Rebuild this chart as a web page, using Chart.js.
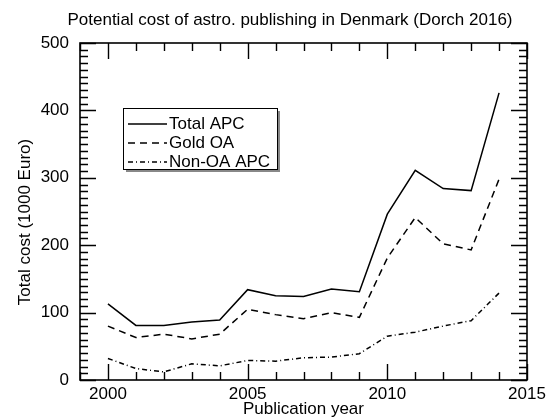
<!DOCTYPE html>
<html><head><meta charset="utf-8">
<script src="https://cdn.jsdelivr.net/npm/chart.js@4/dist/chart.umd.min.js"></script>
<style>html,body{margin:0;padding:0;background:#fff}#wrap{width:548px;height:420px}</style>
</head><body><div id="wrap"><canvas id="c" width="548" height="420"></canvas></div>
<script>
const years = [2000,2001,2002,2003,2004,2005,2006,2007,2008,2009,2010,2011,2012,2013,2014];
const totalAPC = [113,81,81,86,89,134,125,124,135,131,246,311,284,281,426];
const goldOA   = [80,63,68,61,68,105,97,91,100,93,181,241,202,193,298];
const nonOA    = [32,17,12,24,21,29,28,33,34,39,65,71,80,88,129];
const xTickLabels = ['2000','2005','2010','2015'];
const yTickLabels = ['0','100','200','300','400','500'];
const seriesNames = ['Total APC','Gold OA','Non-OA APC'];
const titleText = 'Potential cost of astro. publishing in Denmark (Dorch 2016)';
const xTitle = 'Publication year';
const yTitle = 'Total cost (1000 Euro)';

const FONT = '"Liberation Sans", Arial, Helvetica, sans-serif';
const dashes = [[], [7,5], [5,3,1,3]];

function pts(arr){ return years.map((y,i)=>({x:y,y:arr[i]})); }

const framePlugin = {
  id:'frame',
  afterDatasetsDraw(chart){
    const ctx = chart.ctx, xs = chart.scales.x, ys = chart.scales.y, a = chart.chartArea;
    ctx.save();
    ctx.strokeStyle = '#000'; ctx.lineWidth = 1.6; ctx.setLineDash([]);
    ctx.strokeRect(a.left, a.top, a.right-a.left, a.bottom-a.top);
    ctx.lineWidth = 1.4;
    for (let v = xs.min; v <= xs.max; v++) {
      const px = Math.round(xs.getPixelForValue(v))+0.5;
      const L = (v % 5 === 0) ? 16 : 8;
      ctx.beginPath();
      ctx.moveTo(px, a.bottom); ctx.lineTo(px, a.bottom-L);
      ctx.moveTo(px, a.top); ctx.lineTo(px, a.top+L);
      ctx.stroke();
    }
    for (let v = ys.min; v <= ys.max; v += 10) {
      const py = Math.round(ys.getPixelForValue(v))+0.5;
      const L = (v % 100 === 0) ? 16 : 8;
      ctx.beginPath();
      ctx.moveTo(a.left, py); ctx.lineTo(a.left+L, py);
      ctx.moveTo(a.right, py); ctx.lineTo(a.right-L, py);
      ctx.stroke();
    }
    ctx.fillStyle = '#000';
    ctx.font = '17px ' + FONT;
    ctx.textAlign = 'center'; ctx.textBaseline = 'top';
    xTickLabels.forEach(t => { ctx.fillText(t, xs.getPixelForValue(+t), a.bottom+6); });
    ctx.textAlign = 'right'; ctx.textBaseline = 'middle';
    yTickLabels.forEach(t => { ctx.fillText(t, a.left-11, ys.getPixelForValue(+t)); });
    ctx.textAlign = 'center'; ctx.textBaseline = 'middle';
    ctx.fillText(titleText, 290, 20);
    ctx.fillText(xTitle, (a.left+a.right)/2, 409);
    ctx.save();
    ctx.translate(25, 222);
    ctx.rotate(-Math.PI/2);
    ctx.fillText(yTitle, 0, 0);
    ctx.restore();
    const bx = 123, by = 108, bw = 154, bh = 61;
    ctx.fillStyle = '#888';
    ctx.fillRect(bx+3, by+3, bw, bh);
    ctx.fillStyle = '#fff';
    ctx.fillRect(bx, by, bw, bh);
    ctx.lineWidth = 1; ctx.strokeStyle = '#000';
    ctx.strokeRect(bx+0.5, by+0.5, bw, bh);
    chart.data.datasets.forEach((ds, i) => {
      const yy = 124 + i*19;
      ctx.lineWidth = 1.5;
      ctx.setLineDash(ds.borderDash || []);
      ctx.beginPath(); ctx.moveTo(128, yy); ctx.lineTo(167, yy); ctx.stroke();
      ctx.setLineDash([]);
      ctx.fillStyle = '#000';
      ctx.textAlign = 'left';
      ctx.fillText(ds.label, 169, yy);
    });
    ctx.restore();
  }
};

new Chart(document.getElementById('c'), {
  type:'line',
  data:{ datasets:[
    {label:seriesNames[0], data:pts(totalAPC), borderColor:'#000', borderWidth:1.5, borderDash:dashes[0], pointRadius:0, tension:0, fill:false},
    {label:seriesNames[1], data:pts(goldOA), borderColor:'#000', borderWidth:1.5, borderDash:dashes[1], pointRadius:0, tension:0, fill:false},
    {label:seriesNames[2], data:pts(nonOA), borderColor:'#000', borderWidth:1.5, borderDash:dashes[2], pointRadius:0, tension:0, fill:false}
  ]},
  options:{
    responsive:false, animation:false, devicePixelRatio:1,
    layout:{padding:{left:80, right:21, top:43, bottom:40}},
    plugins:{legend:{display:false}, title:{display:false}, tooltip:{enabled:false}},
    scales:{
      x:{type:'linear', min:1999, max:2015, display:false},
      y:{type:'linear', min:0, max:500, display:false}
    }
  },
  plugins:[framePlugin]
});
</script></body></html>
